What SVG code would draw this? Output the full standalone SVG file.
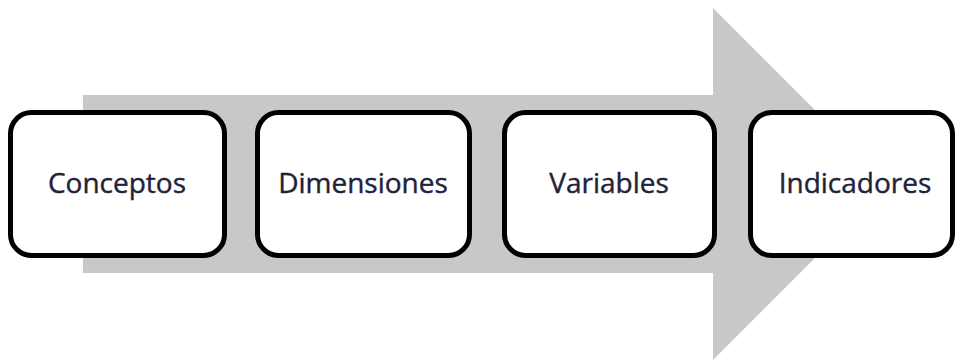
<svg xmlns="http://www.w3.org/2000/svg" width="956" height="362" viewBox="0 0 956 362">
  <style>
    .box { fill: #ffffff; stroke: #000000; stroke-width: 5; }
    .label { font-family: "Open Sans", "Liberation Sans", sans-serif; font-size: 28px; fill: #22223a; stroke: #22223a; stroke-width: 0.4; text-anchor: middle; }
  </style>
  <rect x="0" y="0" width="956" height="362" fill="#ffffff"/>
  <!-- broad process arrow behind the steps -->
  <g id="connectors">
    <polygon points="83,95 713,95 713,8 889,184 713,360 713,273 83,273" fill="#c8c8c8"/>
  </g>
  <g id="conceptos">
    <rect class="box" x="10.5" y="112.5" width="214" height="143" rx="21" ry="21"/>
    <text class="label" x="117" y="193">Conceptos</text>
  </g>
  <g id="dimensiones">
    <rect class="box" x="257.5" y="112.5" width="212" height="143" rx="21" ry="21"/>
    <text class="label" x="363" y="193">Dimensiones</text>
  </g>
  <g id="variables">
    <rect class="box" x="504.5" y="112.5" width="210" height="143" rx="21" ry="21"/>
    <text class="label" x="609" y="193">Variables</text>
  </g>
  <g id="indicadores">
    <rect class="box" x="750.5" y="112.5" width="202" height="143" rx="21" ry="21"/>
    <text class="label" x="855" y="193">Indicadores</text>
  </g>
</svg>
